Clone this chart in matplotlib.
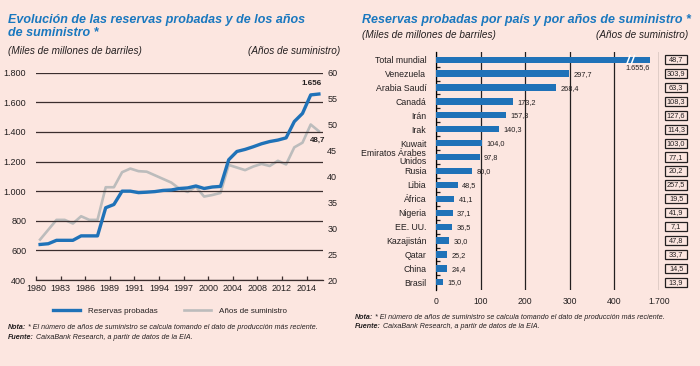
import matplotlib.pyplot as plt
from matplotlib.patches import Rectangle

# Left chart: reserves (left axis) and years of supply (right axis), one point per year
reservas = [640, 645, 668, 668, 668, 698, 698, 698, 888, 910,
            1000, 1000, 990, 993, 997, 1005, 1008, 1018, 1022, 1035,
            1018, 1028, 1032, 1212, 1268, 1282, 1300, 1320, 1335, 1345,
            1360, 1470, 1525, 1650, 1656]
anios = [27.8, 29.7, 31.6, 31.6, 30.9, 32.3, 31.6, 31.6, 37.9, 37.9,
         40.8, 41.5, 41.0, 40.9, 40.2, 39.5, 38.8, 37.6, 37.0, 38.0,
         36.1, 36.4, 36.8, 42.2, 41.7, 41.2, 41.9, 42.4, 42.0, 43.0,
         42.3, 45.6, 46.5, 50.0, 48.7]
x_labels = ['1980', '1983', '1986', '1989', '1991', '1994', '1997', '2000',
            '2004', '2008', '2012', '2014']

# Right chart: reserves by country and years of supply
paises = ['Total mundial', 'Venezuela', 'Arabia Saudí', 'Canadá', 'Irán', 'Irak',
          'Kuwait', 'Emiratos Árabes\nUnidos', 'Rusia', 'Libia', 'África', 'Nigeria',
          'EE. UU.', 'Kazajistán', 'Qatar', 'China', 'Brasil']
reservas_pais = [1655.6, 297.7, 268.4, 173.2, 157.3, 140.3, 104.0, 97.8, 80.0,
                 48.5, 41.1, 37.1, 36.5, 30.0, 25.2, 24.4, 15.0]
anios_pais = [48.7, 303.9, 63.3, 108.3, 127.6, 114.3, 103.0, 77.1, 20.2,
              257.5, 19.5, 41.9, 7.1, 47.8, 33.7, 14.5, 13.9]

BG = '#fce6e0'
BLUE = '#1f72b8'
GRAY = '#bcbcbc'
TXT = '#231f20'
TITLE = '#1a78bf'
GRID = '#3b2e2e'

plt.rcParams['font.family'] = ['Liberation Sans Narrow', 'Liberation Sans', 'DejaVu Sans']
plt.rcParams['text.color'] = TXT
plt.rcParams['xtick.color'] = TXT
plt.rcParams['ytick.color'] = TXT


def fmt(v, dec=1):
    s = f'{v:,.{dec}f}'
    return s.replace(',', 'X').replace('.', ',').replace('X', '.')


def px(x, y):
    return x / 700, 1 - y / 366


fig = plt.figure(figsize=(7, 3.66), dpi=100, facecolor=BG)

# ---------------- left chart ----------------
ax = fig.add_axes([36 / 700, 1 - 280 / 366, 287 / 700, 207.3 / 366])
xs = list(range(len(reservas)))
ax.set_xlim(-0.5, len(reservas) - 0.5)
ax.set_ylim(400, 1800)
ax.set_yticks(range(400, 1801, 200))
ax.set_yticklabels([fmt(v, 0) for v in range(400, 1801, 200)], fontsize=6.5)
ax.grid(axis='y', color=GRID, lw=0.9)
for s in ['top', 'left', 'right']:
    ax.spines[s].set_visible(False)
ax.spines['bottom'].set_color(GRID)
ax.spines['bottom'].set_linewidth(0.9)
ax.set_xticks([-0.5 + 3 * k for k in range(len(x_labels))])
ax.set_xticklabels(x_labels, fontsize=6.5)
ax.tick_params(axis='x', direction='in', length=3, width=0.9, color=GRID, pad=3)
ax.tick_params(axis='y', length=0, pad=7)

ax2 = ax.twinx()
ax2.set_ylim(20, 60)
ax2.set_yticks(range(20, 61, 5))
ax2.tick_params(axis='y', length=0, pad=3, labelsize=6.5)
for s in ['top', 'left', 'right', 'bottom']:
    ax2.spines[s].set_visible(False)

l2, = ax2.plot(xs, anios, color=GRAY, lw=1.9, solid_joinstyle='round')
l1, = ax.plot(xs, reservas, color=BLUE, lw=2.4, solid_joinstyle='round', zorder=5)
ax.set_zorder(ax2.get_zorder() + 1)
ax.patch.set_visible(False)

ax.annotate(fmt(reservas[-1], 0), (xs[-1], reservas[-1]), xytext=(-5, 5),
            textcoords='offset points', ha='center', va='bottom', fontsize=5.8,
            fontweight='bold')
ax2.annotate(fmt(anios[-1]), (xs[-1], anios[-1]), xytext=(-1, -4),
             textcoords='offset points', ha='center', va='top', fontsize=5.8,
             fontweight='bold')

fig.legend([l1, l2], ['Reservas probadas', 'Años de suministro'], loc='center',
           bbox_to_anchor=px(170, 311), ncol=2, frameon=False,
           fontsize=5.8, handlelength=3.4, columnspacing=3.2, handletextpad=1.0)

fig.text(*px(8, 20), 'Evolución de las reservas probadas y de los años',
         fontsize=9, fontweight='bold', style='italic', color=TITLE, va='center')
fig.text(*px(8, 33), 'de suministro *',
         fontsize=9, fontweight='bold', style='italic', color=TITLE, va='center')
fig.text(*px(8, 51), '(Miles de millones de barriles)', fontsize=7.2,
         style='italic', va='center')
fig.text(*px(340, 51), '(Años de suministro)', fontsize=7.2,
         style='italic', va='center', ha='right')

# ---------------- right chart ----------------
axr = fig.add_axes([436 / 700, 1 - 290 / 366, 223 / 700, 238 / 366])
axr.set_facecolor('none')
n = len(paises)
rows = list(range(n))
tope = 480  # where the broken total bar stops
largo = [min(v, tope) for v in reservas_pais]
axr.barh(rows, largo, height=0.45, color=BLUE, zorder=3)
axr.set_ylim(n - 0.45, -0.55)
axr.set_xlim(0, 500)
axr.set_xticks([0, 100, 200, 300, 400, 500])
axr.set_xticklabels(['0', '100', '200', '300', '400', '1.700'], fontsize=6.2)
axr.tick_params(axis='x', length=0, pad=5)
axr.set_yticks(rows)
axr.set_yticklabels(paises, fontsize=6.3, linespacing=0.85)
axr.set_yticks([r + 0.5 for r in rows[:-1]], minor=True)
axr.tick_params(axis='y', which='major', length=0, pad=7)
axr.tick_params(axis='y', which='minor', direction='in', length=3, width=0.9)
axr.grid(axis='x', color=TXT, lw=0.9, zorder=1)
for s in ['top', 'right', 'bottom']:
    axr.spines[s].set_visible(False)
axr.spines['left'].set_linewidth(0.9)

for r, v, w in zip(rows, reservas_pais, largo):
    if v > tope:
        axr.text(w, r + 0.3, fmt(v), ha='right', va='top', fontsize=5.3, zorder=4)
        for bx in (tope - 52, tope - 42):
            axr.plot([bx, bx + 7], [r + 0.3, r - 0.3], color='white', lw=1.1, zorder=4)
    else:
        axr.text(w + 10, r + 0.05, fmt(v), ha='left', va='center', fontsize=5.3, zorder=4)

bt = axr.get_yaxis_transform()
for r, v in zip(rows, anios_pais):
    axr.add_patch(Rectangle((1.027, r - 0.33), 0.099, 0.66, transform=bt, fill=False,
                            ec=TXT, lw=0.9, clip_on=False))
    axr.text(1.0765, r, fmt(v), transform=bt, ha='center', va='center', fontsize=5.3)

fig.text(*px(362, 20), 'Reservas probadas por país y por años de suministro *',
         fontsize=9, fontweight='bold', style='italic', color=TITLE, va='center')
fig.text(*px(362, 35), '(Miles de millones de barriles)', fontsize=7.2,
         style='italic', va='center')
fig.text(*px(688, 35), '(Años de suministro)', fontsize=7.2,
         style='italic', va='center', ha='right')

# ---------------- notes ----------------
nota = ' * El número de años de suministro se calcula tomando el dato de producción más reciente.'
fuente = ' CaixaBank Research, a partir de datos de la EIA.'
for x0, y0, y1 in [(8, 329, 339), (355, 319, 328)]:
    t = fig.text(*px(x0, y0), 'Nota:', fontsize=5.1, fontweight='bold',
                 style='italic', va='baseline')
    fig.add_artist(plt.Annotation(nota, xy=(1, 0), xycoords=t, fontsize=5.1,
                                  style='italic', va='bottom', ha='left'))
    t2 = fig.text(*px(x0, y1), 'Fuente:', fontsize=5.1, fontweight='bold',
                  style='italic', va='baseline')
    fig.add_artist(plt.Annotation(fuente, xy=(1, 0), xycoords=t2, fontsize=5.1,
                                  style='italic', va='bottom', ha='left'))

fig.savefig('out.png', dpi=100, facecolor=BG)
